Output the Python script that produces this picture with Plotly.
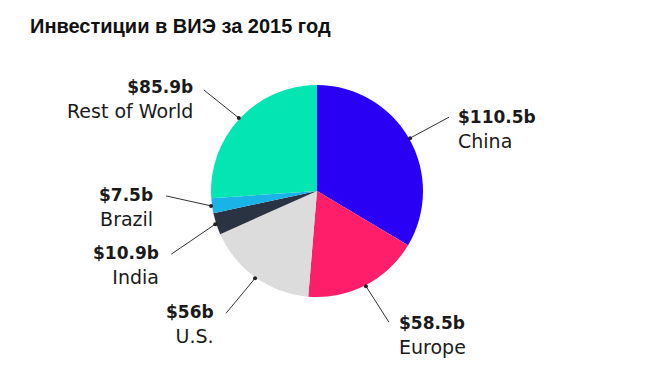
import math
import plotly.graph_objects as go

# ---- data ----
regions = ["China", "Europe", "U.S.", "India", "Brazil", "Rest of World"]
values = [110.5, 58.5, 56, 10.9, 7.5, 85.9]
value_labels = ["$110.5b", "$58.5b", "$56b", "$10.9b", "$7.5b", "$85.9b"]
colors = ["#2a00f5", "#fe1e6a", "#dcdcdc", "#2a3342", "#1ab3e8", "#03e6b4"]
title_text = "Инвестиции в ВИЭ за 2015 год"

# ---- layout constants (pixels) ----
W, H = 650, 389
CX, CY, R = 317, 191, 106
# leader line tail offsets from the slice edge point (px, screen coords)
tail_off = [(39, -21), (23, 36), (-29, 35), (-44, 30), (-45, -10), (-35, -28)]
# text offset from line tail and horizontal anchor
text_off = [(7, 12), (8, 13), (-10, 11), (-10, 11), (-11, 12), (-9, 10)]
anchors = ["left", "left", "right", "right", "right", "right"]

fig = go.Figure()
fig.add_trace(go.Pie(
    labels=regions, values=values, sort=False, direction="clockwise", rotation=0,
    marker=dict(colors=colors, line=dict(width=0)),
    textinfo="none", hoverinfo="skip", showlegend=False,
    domain=dict(x=[(CX - R) / W, (CX + R) / W], y=[1 - (CY + R) / H, 1 - (CY - R) / H]),
))

def px2paper(x, y):
    return x / W, 1 - y / H

total = sum(values)
cum = 0
shapes = []
annotations = []
for i, v in enumerate(values):
    mid = (cum + v / 2) / total * 2 * math.pi
    cum += v
    hx = CX + (R + 1) * math.sin(mid)
    hy = CY - (R + 1) * math.cos(mid)
    tx = hx + tail_off[i][0]
    ty = hy + tail_off[i][1]
    x0, y0 = px2paper(hx, hy)
    x1, y1 = px2paper(tx, ty)
    shapes.append(dict(type="line", xref="paper", yref="paper", x0=x0, y0=y0, x1=x1, y1=y1,
                       line=dict(color="#333333", width=1)))
    shapes.append(dict(type="circle", xref="paper", yref="paper",
                       x0=(hx - 2) / W, x1=(hx + 2) / W, y0=1 - (hy + 2) / H, y1=1 - (hy - 2) / H,
                       fillcolor="#222222", line=dict(width=0)))
    lx, ly = px2paper(tx + text_off[i][0], ty + text_off[i][1])
    annotations.append(dict(
        x=lx, y=ly, xref="paper", yref="paper", xanchor=anchors[i], yanchor="middle",
        align=anchors[i], showarrow=False,
        text=f"<span style='font-size:17px'><b>{value_labels[i]}</b></span><br>{regions[i]}",
        font=dict(family="DejaVu Sans", size=19, color="#1a1a1a"),
    ))

annotations.append(dict(
    x=28 / W, y=1 - 26 / H, xref="paper", yref="paper", xanchor="left", yanchor="middle",
    showarrow=False, text=f"<b>{title_text}</b>",
    font=dict(family="Liberation Sans, Arial", size=20, color="#111111"),
))

fig.update_layout(
    width=W, height=H, margin=dict(l=0, r=0, t=0, b=0),
    paper_bgcolor="white", plot_bgcolor="white",
    shapes=shapes, annotations=annotations,
)
fig.write_html("out.html", config={"displayModeBar": False},
               post_script="document.body.style.margin='0';document.body.style.padding='0';")
